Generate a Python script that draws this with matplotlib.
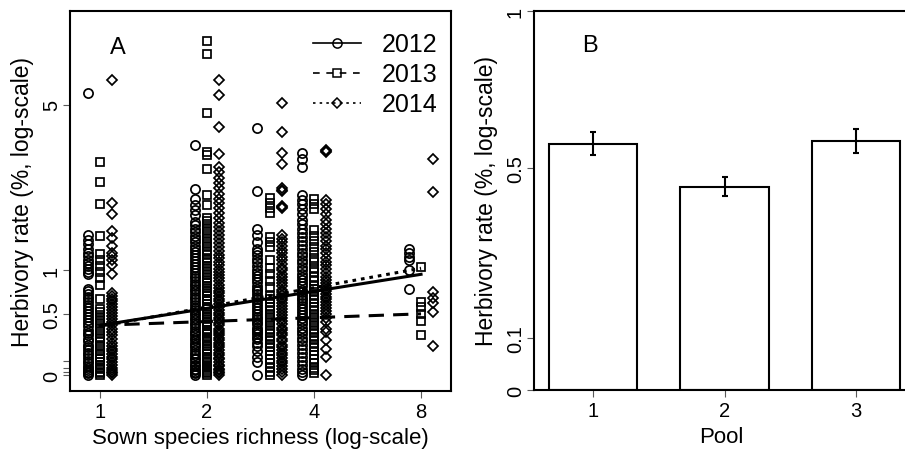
import numpy as np
import matplotlib.pyplot as plt
from matplotlib.lines import Line2D

plt.rcParams['font.family'] = ['Liberation Sans', 'DejaVu Sans']

# sown species richness levels and survey years
richness = [1, 2, 3, 4, 8]
years = ['2012', '2013', '2014']

# herbivory rate (%) per plot
h2012_sr1 = [5.5, 1.53, 1.45, 1.38, 1.31, 1.25, 1.2, 1.15, 1.1, 1.06, 1.02, 0.98, 0.95, 0.77, 0.74,
             0.71, 0.68, 0.65, 0.62, 0.59, 0.56, 0.53, 0.5, 0.47, 0.44, 0.41, 0.38, 0.35, 0.32, 0.3,
             0.27, 0.25, 0.22, 0.2, 0.18, 0.16, 0.14, 0.12, 0.1, 0.08, 0.06, 0.05, 0.03, 0.02, 0.01, 0.0]
h2013_sr1 = [3.1, 2.6, 2.1, 1.52, 1.23, 1.14, 1.06, 0.98, 0.9, 0.82, 0.66, 0.55, 0.52, 0.49, 0.46,
             0.43, 0.4, 0.37, 0.34, 0.31, 0.28, 0.25, 0.22, 0.2, 0.17, 0.15, 0.13, 0.11, 0.09, 0.07,
             0.05, 0.04, 0.02, 0.01, 0.0]
h2014_sr1 = [6.1, 2.13, 1.91, 1.6, 1.48, 1.36, 1.25, 1.2, 1.14, 1.08, 0.96, 0.72, 0.69, 0.66, 0.63,
             0.6, 0.57, 0.54, 0.51, 0.48, 0.45, 0.42, 0.39, 0.36, 0.33, 0.3, 0.27, 0.24, 0.21, 0.19,
             0.17, 0.15, 0.13, 0.11, 0.09, 0.07, 0.05, 0.03, 0.02, 0.01, 0.0]

h2012_sr2 = [3.6, 2.43, 2.21, 2.08, 1.98, 1.89, 1.76, 1.7, 1.64, 1.58, 1.52, 1.46, 1.41, 1.36, 1.31,
             1.26, 1.21, 1.17, 1.13, 1.09, 1.05, 1.01, 0.97, 0.93, 0.9, 0.86, 0.83, 0.8, 0.77, 0.74,
             0.71, 0.68, 0.65, 0.62, 0.59, 0.56, 0.54, 0.51, 0.49, 0.46, 0.44, 0.41, 0.39, 0.37, 0.34,
             0.32, 0.3, 0.28, 0.26, 0.24, 0.22, 0.2, 0.18, 0.16, 0.14, 0.12, 0.11, 0.09, 0.07, 0.06,
             0.04, 0.03, 0.02, 0.01, 0.0]
h2013_sr2 = [8.2, 7.4, 4.68, 3.38, 3.3, 2.92, 2.3, 2.08, 1.84, 1.78, 1.72, 1.66, 1.6, 1.54, 1.48,
             1.43, 1.38, 1.33, 1.28, 1.23, 1.18, 1.14, 1.1, 1.06, 1.02, 0.98, 0.94, 0.9, 0.87, 0.84,
             0.81, 0.78, 0.75, 0.72, 0.69, 0.66, 0.63, 0.6, 0.57, 0.55, 0.52, 0.5, 0.47, 0.45, 0.42,
             0.4, 0.38, 0.35, 0.33, 0.31, 0.29, 0.27, 0.25, 0.23, 0.21, 0.19, 0.17, 0.15, 0.13, 0.11,
             0.1, 0.08, 0.06, 0.05, 0.03, 0.02, 0.01, 0.0]
h2014_sr2 = [6.1, 5.4, 4.17, 3.33, 2.97, 2.85, 2.7, 2.58, 2.45, 2.33, 2.22, 2.12, 2.02, 1.93, 1.84,
             1.75, 1.67, 1.6, 1.53, 1.46, 1.4, 1.34, 1.28, 1.22, 1.17, 1.12, 1.07, 1.02, 0.98, 0.94,
             0.9, 0.86, 0.82, 0.78, 0.75, 0.72, 0.69, 0.66, 0.63, 0.6, 0.57, 0.54, 0.51, 0.49, 0.46,
             0.44, 0.41, 0.39, 0.36, 0.34, 0.32, 0.3, 0.28, 0.26, 0.24, 0.22, 0.2, 0.18, 0.16, 0.14,
             0.12, 0.11, 0.09, 0.07, 0.06, 0.04, 0.03, 0.02, 0.01, 0.0]

h2012_sr3 = [4.14, 2.4, 1.63, 1.53, 1.42, 1.31, 1.26, 1.21, 1.16, 1.11, 1.06, 1.01, 0.97, 0.93, 0.89,
             0.85, 0.81, 0.77, 0.74, 0.71, 0.68, 0.65, 0.62, 0.59, 0.56, 0.53, 0.5, 0.47, 0.45, 0.42,
             0.4, 0.37, 0.35, 0.33, 0.31, 0.29, 0.27, 0.24, 0.21, 0.17, 0.13, 0.09, 0.0]
h2013_sr3 = [2.23, 2.12, 2.03, 1.93, 1.5, 1.42, 1.33, 1.14, 1.04, 0.95, 0.87, 0.79, 0.69, 0.65, 0.61,
             0.57, 0.54, 0.5, 0.47, 0.44, 0.41, 0.38, 0.35, 0.32, 0.29, 0.26, 0.23, 0.2, 0.17, 0.14,
             0.11, 0.08, 0.05, 0.02, 0.0]
h2014_sr3 = [5.07, 4.02, 3.36, 3.05, 2.45, 2.42, 2.4, 2.06, 2.04, 2.02, 1.53, 1.47, 1.41, 1.35, 1.29,
             1.24, 1.19, 1.14, 1.09, 1.04, 1.0, 0.96, 0.92, 0.88, 0.84, 0.8, 0.76, 0.73, 0.7, 0.67,
             0.64, 0.61, 0.58, 0.55, 0.52, 0.49, 0.46, 0.43, 0.4, 0.37, 0.35, 0.32, 0.3, 0.27, 0.25,
             0.22, 0.2, 0.18, 0.16, 0.14, 0.12, 0.1, 0.08, 0.06, 0.04, 0.02, 0.0]

h2012_sr4 = [3.36, 3.19, 2.97, 2.3, 2.2, 2.1, 2.0, 1.9, 1.8, 1.72, 1.64, 1.57, 1.5, 1.43, 1.37,
             1.31, 1.25, 1.2, 1.15, 1.1, 1.05, 1.0, 0.96, 0.92, 0.88, 0.84, 0.8, 0.76, 0.73, 0.7,
             0.67, 0.64, 0.61, 0.58, 0.55, 0.52, 0.49, 0.46, 0.43, 0.4, 0.37, 0.34, 0.31, 0.28, 0.25,
             0.22, 0.19, 0.16, 0.13, 0.1, 0.07, 0.04, 0.02, 0.0]
h2013_sr4 = [2.21, 2.11, 2.01, 1.62, 1.52, 1.43, 1.34, 1.26, 1.18, 1.11, 1.04, 0.98, 0.92, 0.86, 0.81,
             0.77, 0.73, 0.69, 0.65, 0.61, 0.57, 0.54, 0.5, 0.47, 0.44, 0.41, 0.38, 0.35, 0.32, 0.29,
             0.26, 0.23, 0.2, 0.17, 0.14, 0.11, 0.08, 0.05, 0.03, 0.01]
h2014_sr4 = [3.45, 3.42, 3.4, 2.2, 2.1, 2.0, 1.9, 1.8, 1.72, 1.64, 1.57, 1.5, 1.43, 1.36, 1.3,
             1.24, 1.18, 1.12, 1.07, 1.02, 0.97, 0.92, 0.88, 0.84, 0.8, 0.77, 0.74, 0.71, 0.68, 0.65,
             0.62, 0.59, 0.56, 0.53, 0.5, 0.46, 0.42, 0.36, 0.33, 0.26, 0.19, 0.13, 0.0]

h2012_sr8 = [1.3, 1.24, 1.19, 1.14, 1.0, 0.77]
h2013_sr8 = [1.05, 0.62, 0.57, 0.5, 0.43, 0.3]
h2014_sr8 = [3.2, 2.37, 0.73, 0.67, 0.61, 0.52, 0.21]

# fitted herbivory rate at richness 1 and 8
fit_x = [1, 8]
fit_2012 = [0.39, 0.95]
fit_2013 = [0.39, 0.50]
fit_2014 = [0.38, 1.03]

# panel B: mean herbivory per species pool with error bars
pool = [1, 2, 3]
pool_mean = [0.569, 0.450, 0.578]
pool_lo = [0.537, 0.426, 0.543]
pool_hi = [0.602, 0.475, 0.611]

points = {
    '2012': [h2012_sr1, h2012_sr2, h2012_sr3, h2012_sr4, h2012_sr8],
    '2013': [h2013_sr1, h2013_sr2, h2013_sr3, h2013_sr4, h2013_sr8],
    '2014': [h2014_sr1, h2014_sr2, h2014_sr3, h2014_sr4, h2014_sr8],
}
fits = {'2012': fit_2012, '2013': fit_2013, '2014': fit_2014}
markers = {'2012': 'o', '2013': 's', '2014': 'D'}
msizes = {'2012': 6.6, '2013': 5.8, '2014': 5.4}
shift = {'2012': 2 ** -0.115, '2013': 1.0, '2014': 2 ** 0.115}
dashes = {'2012': None, '2013': (5, 3), '2014': (1.2, 1.6)}
leg_dashes = {'2012': None, '2013': (4, 4), '2014': (1.5, 2.5)}


def fwd(y):
    return np.log10(np.clip(np.asarray(y, dtype=float) + 1, 1e-6, None))


def inv(t):
    return 10 ** np.asarray(t, dtype=float) - 1


fig = plt.figure(figsize=(9.05, 4.52), dpi=100)
axA = fig.add_axes([70 / 905, 1 - 392 / 452, 381 / 905, 380 / 452])
axB = fig.add_axes([534 / 905, 1 - 391 / 452, 374 / 905, 379 / 452])

# ---- panel A
axA.set_xscale('log', base=2)
axA.set_yscale('function', functions=(fwd, inv))
handles = []
for yr in years:
    for sr, vals in zip(richness, points[yr]):
        axA.plot([sr * shift[yr]] * len(vals), vals, ls='none', marker=markers[yr],
                 ms=msizes[yr], mfc='none', mec='black', mew=1.25, zorder=2)
    ln, = axA.plot(fit_x, fits[yr], color='black', lw=2.2, zorder=3)
    if dashes[yr] is not None:
        ln.set_dashes(dashes[yr])
    h = Line2D([], [], color='black', lw=1.2, marker=markers[yr], ms=msizes[yr],
               mfc='none', mec='black', mew=1.1)
    if leg_dashes[yr] is not None:
        h.set_dashes(leg_dashes[yr])
    handles.append(h)

axA.set_xlim(2 ** -0.28, 2 ** 3.28)
axA.set_ylim(-0.101, 10.19)
axA.set_xticks([1, 2, 4, 8])
axA.set_xticklabels(['1', '2', '4', '8'])
axA.xaxis.set_minor_locator(plt.NullLocator())
axA.set_yticks([0, 0.02, 0.05, 0.1, 0.5, 1, 5])
axA.set_yticklabels(['0', '', '', '', '0.5', '1', '5'])
axA.yaxis.set_minor_locator(plt.NullLocator())
axA.set_xlabel('Sown species richness (log-scale)', fontsize=16, labelpad=4)
axA.set_ylabel('Herbivory rate (%, log-scale)', fontsize=16.5, labelpad=6)
axA.text(0.126, 0.905, 'A', transform=axA.transAxes, fontsize=17, ha='center', va='center')
axA.legend(handles, years, loc='upper right', bbox_to_anchor=(0.965, 0.944), frameon=False,
           fontsize=18, handlelength=1.9, handletextpad=0.85, borderpad=0, borderaxespad=0,
           labelspacing=0.24)

# ---- panel B
axB.set_yscale('function', functions=(fwd, inv))
axB.bar(pool, pool_mean, width=0.675, color='white', edgecolor='black', lw=1.5, zorder=2)
yerr = [np.subtract(pool_mean, pool_lo), np.subtract(pool_hi, pool_mean)]
axB.errorbar(pool, pool_mean, yerr=yerr, fmt='none', ecolor='black', elinewidth=1.5,
             capsize=2.3, capthick=1.5, zorder=3)
axB.set_xlim(0.551, 3.395)
axB.set_ylim(0, 1)
axB.set_xticks(pool)
axB.set_yticks([0, 0.1, 0.5, 1])
axB.set_yticklabels(['0', '0.1', '0.5', '1'])
axB.yaxis.set_minor_locator(plt.NullLocator())
axB.set_xlabel('Pool', fontsize=16, labelpad=4)
axB.set_ylabel('Herbivory rate (%, log-scale)', fontsize=16.5, labelpad=6)
axB.text(0.15, 0.91, 'B', transform=axB.transAxes, fontsize=17, ha='center', va='center')

for ax in (axA, axB):
    for sp in ax.spines.values():
        sp.set_linewidth(1.5)
    ax.tick_params(direction='out', length=5, width=0.8, color='0.35', labelsize=14.5, pad=3)
    ax.tick_params(axis='y', labelrotation=90, pad=1.5)
    for lab in ax.get_yticklabels():
        lab.set_va('center')

fig.savefig('out.png', dpi=100)
